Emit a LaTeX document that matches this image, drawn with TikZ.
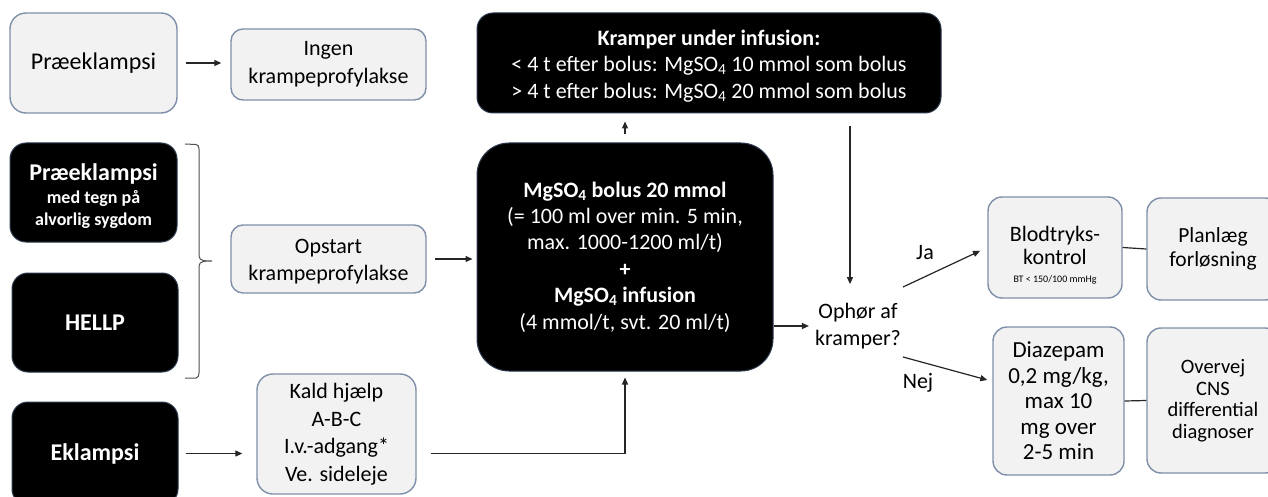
\documentclass[tikz,border=0pt]{standalone}
\usepackage{fontspec}
\setmainfont{Carlito}
\usetikzlibrary{arrows.meta,calc}
\definecolor{boxfill}{HTML}{F2F2F2}
\definecolor{boxline}{HTML}{7F8FA9}
\definecolor{darkline}{HTML}{2E3A4F}
\definecolor{conn}{HTML}{262626}
\definecolor{brkcol}{HTML}{505050}
\begin{document}
\begin{tikzpicture}[x=1pt,y=-1pt,
  lbox/.style={draw=boxline, fill=boxfill, line width=1.4pt, rounded corners=14pt, align=center, inner sep=0pt, font=\fontsize{22}{27}\selectfont},
  dbox/.style={draw=darkline, fill=black, text=white, line width=1pt, rounded corners=16pt, align=center, inner sep=0pt, font=\bfseries\fontsize{24}{28}\selectfont},
  arr/.style={draw=conn, line width=1.2pt, -{Triangle[length=7pt,width=6pt]}},
  ln/.style={draw=conn, line width=1.2pt},
  lbl/.style={font=\fontsize{22}{26}\selectfont, inner sep=0pt}]
\useasboundingbox (0,0) rectangle (1268,497);
\fill[white] (0,0) rectangle (1268,497);
\clip (0,0) rectangle (1268,497);

% left column
\node[lbox, minimum width=167pt, minimum height=100pt, rounded corners=16pt, font=\fontsize{24}{28}\selectfont] (pre) at (93.5,63) {Præeklampsi};
\node[dbox, minimum width=167pt, minimum height=99pt] (pre2) at (93.5,192.5) {};
\node[text=white, align=center, inner sep=0pt, font=\bfseries\fontsize{24}{28}\selectfont] (pre2t) at ($(pre2.center)+(0,4)$) {Præeklampsi\\[-5pt]{\fontsize{18}{22}\selectfont med tegn på}\\[-6pt]{\fontsize{18}{22}\selectfont alvorlig sygdom}};
\node[dbox, minimum width=166pt, minimum height=99pt] (hellp) at (95,322.5) {HELLP};
\node[dbox, minimum width=166pt, minimum height=103pt] (ekl) at (95,453.5) {Eklampsi};

% second column
\node[lbox, minimum width=195pt, minimum height=71pt, rounded corners=12pt, font=\fontsize{22}{28}\selectfont] (ingen) at (328.5,64.5) {Ingen\\krampeprofylakse};
\node[lbox, minimum width=195pt, minimum height=68pt, rounded corners=12pt] (op) at (328.5,259) {};
\node[align=center, inner sep=0pt, font=\fontsize{22}{27}\selectfont] (opt) at ($(op.center)+(0,3)$) {Opstart\\krampeprofylakse};
\node[lbox, minimum width=159pt, minimum height=120pt, rounded corners=16pt, font=\fontsize{22}{27.5}\selectfont] (kald) at (336.5,434) {Kald hjælp\\A-B-C\\I.v.-adgang*\\Ve. sideleje};

% centre
\node[dbox, font=\fontsize{22}{26.4}\selectfont, minimum width=296pt, minimum height=228pt, rounded corners=32pt] (mg) at (625,257) {\textbf{MgSO\textsubscript{4} bolus 20 mmol}\\(= 100 ml over min. 5 min,\\max. 1000-1200 ml/t)\\\textbf{+}\\\textbf{MgSO\textsubscript{4} infusion}\\(4 mmol/t, svt. 20 ml/t)};
\node[dbox, minimum width=464pt, minimum height=100pt] (kr) at (709,63) {};
\node[text=white, align=center, inner sep=0pt, font=\fontsize{22}{26.5}\selectfont] (krt) at ($(kr.center)+(0,3)$) {\textbf{Kramper under infusion:}\\< 4 t efter bolus: MgSO\textsubscript{4} 10 mmol som bolus\\> 4 t efter bolus: MgSO\textsubscript{4} 20 mmol som bolus};
\node[lbl, align=center, font=\fontsize{22}{26.5}\selectfont] (oph) at (858,326) {Ophør af\\kramper?};

% right
\node[lbox, minimum width=134pt, minimum height=101pt] (blod) at (1055,247.5) {};
\node[align=center, inner sep=0pt, font=\fontsize{22}{22.5}\selectfont] (blodt) at ($(blod.center)+(0,8)$) {Blodtryks-\\kontrol\\[-4pt]{\fontsize{10}{12}\selectfont BT < 150/100 mmHg}};
\node[lbox, minimum width=132pt, minimum height=102pt, font=\fontsize{21.5}{23.5}\selectfont] (plan) at (1213,249) {Planlæg\\forløsning};
\node[lbox, minimum width=131pt, minimum height=148pt, font=\fontsize{23}{25.5}\selectfont] (dia) at (1058.5,401) {Diazepam\\0,2 mg/kg,\\max 10\\mg over\\2-5 min};
\node[lbox, minimum width=132pt, minimum height=145pt, font=\fontsize{20.5}{21.5}\selectfont] (over) at (1213,400.5) {Overvej\\CNS\\differential\\diagnoser};

\node[lbl] (ja) at (925,253) {Ja};
\node[lbl] (nej) at (918,383) {Nej};

% bracket
\draw[brkcol, line width=1pt] (185,144) -- (196,144.5) to[out=0,in=90] (199,149) -- (199,256) to[out=-90,in=180] (212,261)
  to[out=180,in=90] (199,266) -- (199,373) to[out=-90,in=0] (196,378) -- (185,378);

% connectors
\draw[arr, shorten <=8pt, shorten >=9pt] (pre.east) -- (pre.east -| ingen.west);
\draw[arr, shorten <=8pt, shorten >=4pt] (op.east) -- (op.east -| mg.west);
\draw[arr, shorten <=7pt, shorten >=14pt] (ekl.east) -- (ekl.east -| kald.west);
\draw[arr, shorten >=6pt] ($(kald.east |- ekl.east)+(14,0)$) -| (mg.south);
\draw[arr, shorten <=8pt, shorten >=8pt] (mg.north) -- (mg.north |- kr.south);
\coordinate (kd) at (850,0);
\draw[arr, shorten <=13pt, shorten >=19pt] (kd |- kr.south) -- (kd |- oph.north);
\draw[arr, shorten >=6pt] (mg.east |- oph.west) -- (oph.west);
\coordinate (jaS) at (903,287);
\coordinate (nejS) at (903,357);
\draw[arr, shorten >=8pt] (jaS) -- (blod.west);
\draw[arr] (nejS) -- ($(dia.west)+(-5,-21)$);
\draw[ln] (blod.east) -- (plan.west);
\draw[ln] (dia.east) -- (over.west);
\end{tikzpicture}
\end{document}
